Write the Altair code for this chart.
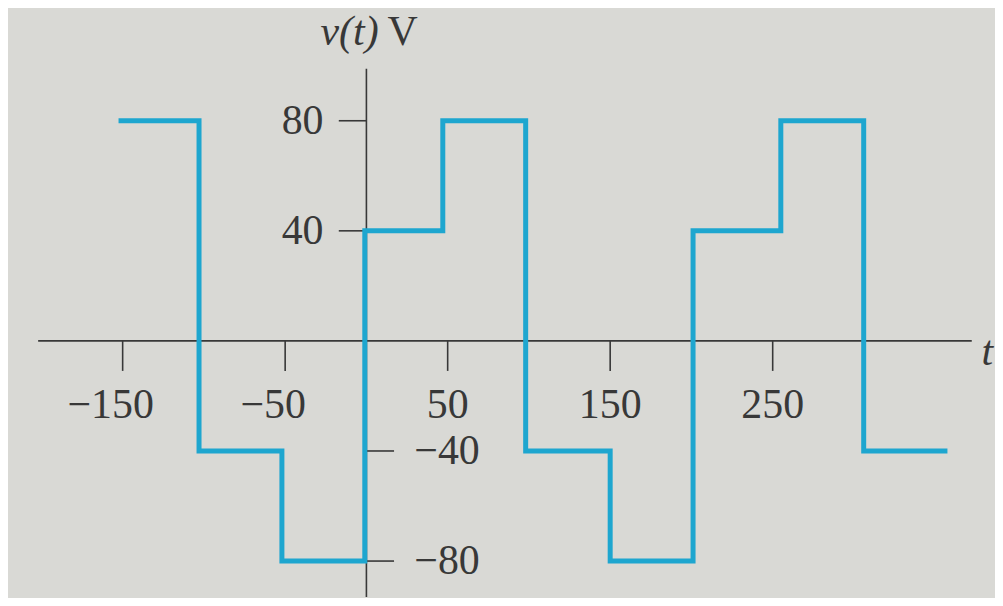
import altair as alt
import pandas as pd

# Waveform: switching instants (t) and the level held after each
t_edges = [-151, -103, -52, -1, 47, 98, 150, 201, 255, 306, 356]
v_levels = [80, -40, -80, 40, 80, -40, -80, 40, 80, -40, -40]

# Tick values and labels
x_ticks = [-150, -50, 50, 150, 250]
x_labels = ["\u2212150", "\u221250", "50", "150", "250"]
y_ticks = [80, 40, -40, -80]
y_labels = ["80", "40", "\u221240", "\u221280"]

# ---- styling / layout constants ----
BG = "#d9d9d5"
LINE = "#1ea6cf"
INK = "#383838"
FONT = "Liberation Serif"
FS = 42

xs = alt.Scale(domain=[-220.55, 386.8], nice=False, zero=False)
ys = alt.Scale(domain=[-93.1, 120.65], nice=False, zero=False)

X_AXIS_FROM, X_AXIS_TO = -202, 372.5
Y_AXIS_TOP, Y_AXIS_BOTTOM = 98.9, -93.1
XTICK_LEN = 10.9   # in v units
YTICK_LEN = 17.0   # in t units


def X(f):
    return alt.X(f, type="quantitative", scale=xs, axis=None)


def Y(f):
    return alt.Y(f, type="quantitative", scale=ys, axis=None)


wave_df = pd.DataFrame({"t": t_edges, "v": v_levels})
wave = alt.Chart(wave_df).mark_line(
    interpolate="step-after", color=LINE, strokeWidth=5,
    strokeJoin="miter", strokeCap="square"
).encode(x=X("t"), y=Y("v"))

xaxis = alt.Chart(pd.DataFrame({"a": [X_AXIS_FROM], "b": [X_AXIS_TO], "y": [0]})).mark_rule(
    color=INK, strokeWidth=1.6
).encode(x=X("a"), x2="b", y=Y("y"))

yaxis = alt.Chart(pd.DataFrame({"x": [0], "a": [Y_AXIS_TOP], "b": [Y_AXIS_BOTTOM]})).mark_rule(
    color=INK, strokeWidth=1.6
).encode(x=X("x"), y=Y("a"), y2="b")

xt_df = pd.DataFrame({"t": x_ticks, "lab": x_labels, "y0": 0, "y1": -XTICK_LEN})
xticks = alt.Chart(xt_df).mark_rule(color=INK, strokeWidth=1.6).encode(
    x=X("t"), y=Y("y0"), y2="y1")

xt_pos = alt.Chart(xt_df[xt_df["t"] > 0]).mark_text(
    font=FONT, fontSize=FS, color=INK, baseline="middle", align="center", dy=64
).encode(x=X("t"), y=Y("y0"), text="lab:N")
xt_neg = alt.Chart(xt_df[xt_df["t"] < 0]).mark_text(
    font=FONT, fontSize=FS, color=INK, baseline="middle", align="center", dy=64, dx=-12
).encode(x=X("t"), y=Y("y0"), text="lab:N")

yt_df = pd.DataFrame({"v": y_ticks, "lab": y_labels})
yt_df["x0"] = [-YTICK_LEN if v > 0 else 0 for v in y_ticks]
yt_df["x1"] = [0 if v > 0 else YTICK_LEN for v in y_ticks]
yticks = alt.Chart(yt_df).mark_rule(color=INK, strokeWidth=1.6).encode(
    x=X("x0"), x2="x1", y=Y("v"))
yt_df["z"] = 0
yl_pos = alt.Chart(yt_df[yt_df["v"] > 0]).mark_text(
    font=FONT, fontSize=FS, color=INK, baseline="middle", align="right", dx=-43
).encode(x=X("z"), y=Y("v"), text="lab:N")
yl_neg = alt.Chart(yt_df[yt_df["v"] < 0]).mark_text(
    font=FONT, fontSize=FS, color=INK, baseline="middle", align="left", dx=48
).encode(x=X("z"), y=Y("v"), text="lab:N")

title_df = pd.DataFrame({"x": [7.5], "x2": [13.0], "y": [107.5], "a": ["v(t)"], "b": ["V"]})
title_a = alt.Chart(title_df).mark_text(
    font=FONT, fontSize=FS, color=INK, fontStyle="italic", align="right", baseline="alphabetic"
).encode(x=X("x"), y=Y("y"), text="a:N")
title_b = alt.Chart(title_df).mark_text(
    font=FONT, fontSize=FS, color=INK, align="left", baseline="alphabetic"
).encode(x=X("x2"), y=Y("y"), text="b:N")

tlab_df = pd.DataFrame({"x": [378.5], "y": [-4.0], "s": ["t"]})
tlab = alt.Chart(tlab_df).mark_text(
    font=FONT, fontSize=FS, color=INK, fontStyle="italic", align="left", baseline="middle"
).encode(x=X("x"), y=Y("y"), text="s:N")

chart = alt.layer(
    xaxis, yaxis, xticks, yticks, xt_pos, xt_neg, yl_pos, yl_neg,
    title_a, title_b, tlab, wave
).properties(
    width=990, height=590,
    autosize=alt.AutoSizeParams(type="none"),
    padding=0,
    background=BG,
).configure_view(stroke=None)

chart.save("out.html", embed_options={"renderer": "svg", "actions": False})
